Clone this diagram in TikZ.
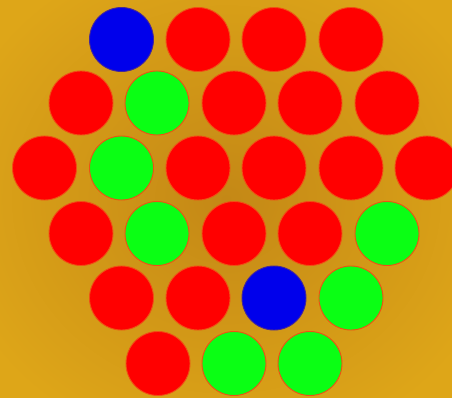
\documentclass[tikz,border=0pt]{standalone}
\usepackage{tikz}
\usetikzlibrary{positioning}

\definecolor{bg_light}{RGB}{222,166,24}
\definecolor{bg_dark}{RGB}{196,136,22}
\definecolor{disc_red}{RGB}{255,0,0}
\definecolor{disc_green}{RGB}{10,255,20}
\definecolor{disc_blue}{RGB}{0,0,235}
\definecolor{rim_warm}{RGB}{240,80,20}
\definecolor{rim_blue}{RGB}{70,40,150}

\begin{document}
\begin{tikzpicture}[
    x=1pt, y=-1pt,
    disc_style/.style={circle, minimum size=64pt, inner sep=0pt, line width=0.9pt, draw=rim_warm},
    blue_disc/.style={disc_style, fill=disc_blue, draw=rim_blue}
]

% board
\useasboundingbox (0,0) rectangle (452,398);
\clip (0,0) rectangle (452,398);
\shade[shading=radial, inner color=bg_dark, outer color=bg_light] (-60,-60) rectangle (512,458);

% row 1
\node[blue_disc] (d11) at (121.5,39.5) {};
\foreach \px [count=\i from 2] in {198,274,351}
    \node[disc_style, fill=disc_red] (d1\i) at (\px,39.5) {};

% row 2
\foreach \px/\col [count=\i] in {81/disc_red,157/disc_green,234/disc_red,310/disc_red,387/disc_red}
    \node[disc_style, fill=\col] (d2\i) at (\px,103) {};

% row 3
\foreach \px/\col [count=\i] in {44.5/disc_red,121.5/disc_green,198/disc_red,274/disc_red,351/disc_red,427/disc_red}
    \node[disc_style, fill=\col] (d3\i) at (\px,168) {};

% row 4
\foreach \px/\col [count=\i] in {81/disc_red,157/disc_green,234/disc_red,310/disc_red,387/disc_green}
    \node[disc_style, fill=\col] (d4\i) at (\px,233.5) {};

% row 5
\foreach \px/\col [count=\i] in {121.5/disc_red,198/disc_red,351/disc_green}
    \node[disc_style, fill=\col] (d5\i) at (\px,298) {};
\node[blue_disc] (d5b) at (274,298) {};

% row 6
\foreach \px/\col [count=\i] in {158/disc_red,234/disc_green,310/disc_green}
    \node[disc_style, fill=\col] (d6\i) at (\px,363.5) {};

\end{tikzpicture}
\end{document}
